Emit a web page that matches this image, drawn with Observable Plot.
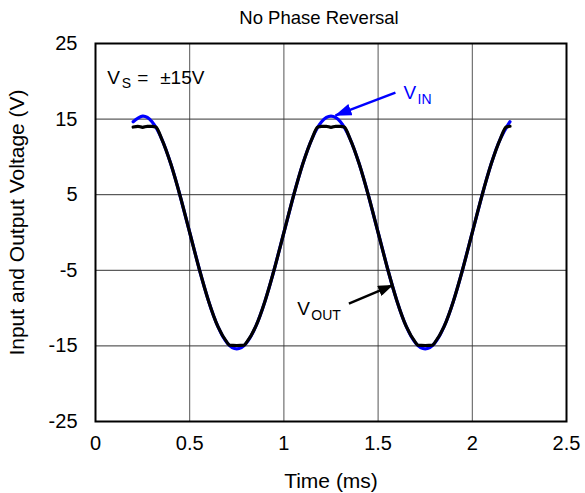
<!DOCTYPE html>
<html>
<head>
<meta charset="utf-8">
<script src="https://cdn.jsdelivr.net/npm/d3@7"></script>
<script src="https://cdn.jsdelivr.net/npm/@observablehq/plot@0.6"></script>
<style>
  html, body { margin: 0; padding: 0; background: white; }
</style>
</head>
<body>
<div id="chart"></div>
<script>
// ---- data ----
const xTicks = [0, 0.5, 1, 1.5, 2, 2.5];
const yTicks = [-25, -15, -5, 5, 15, 25];

// V_IN (V) sampled every 0.05 ms from 0.2 ms to 2.2 ms
const vinTime = [0.20,0.25,0.30,0.35,0.40,0.45,0.50,0.55,0.60,0.65,0.70,0.75,0.80,0.85,0.90,0.95,
                 1.00,1.05,1.10,1.15,1.20,1.25,1.30,1.35,1.40,1.45,1.50,1.55,1.60,1.65,1.70,1.75,
                 1.80,1.85,1.90,1.95,2.00,2.05,2.10,2.15,2.20];
const vinValue = [14.65,15.4,14.65,12.46,9.05,4.76,0,-4.76,-9.05,-12.46,-14.65,-15.4,-14.65,-12.46,-9.05,-4.76,
                  0,4.76,9.05,12.46,14.65,15.4,14.65,12.46,9.05,4.76,0,-4.76,-9.05,-12.46,-14.65,-15.4,
                  -14.65,-12.46,-9.05,-4.76,0,4.76,9.05,12.46,14.65];

// V_OUT (V): follows V_IN but clips near +14 V (with a small dip) and -15 V
const voutTime = [0.20,0.225,0.25,0.275,0.30,0.32,0.35,0.40,0.45,0.50,0.55,0.60,0.65,0.70,0.71,0.75,0.79,0.80,0.85,0.90,0.95,
                  1.00,1.05,1.10,1.15,1.18,1.20,1.225,1.25,1.275,1.30,1.32,1.35,1.40,1.45,1.50,1.55,1.60,1.65,1.70,1.71,1.75,1.79,1.80,1.85,1.90,1.95,
                  2.00,2.05,2.10,2.15,2.18,2.20];
const voutValue = [13.95,14.05,13.9,14.05,14.05,13.95,12.46,9.05,4.76,0,-4.76,-9.05,-12.46,-14.6,-14.9,-14.95,-14.9,-14.6,-12.46,-9.05,-4.76,
                   0,4.76,9.05,12.46,13.95,14.05,14.05,13.9,14.05,14.05,13.95,12.46,9.05,4.76,0,-4.76,-9.05,-12.46,-14.6,-14.9,-14.95,-14.9,-14.6,-12.46,-9.05,-4.76,
                   0,4.76,9.05,12.46,13.95,14.05];

const vin = vinTime.map((t, i) => ({t, v: vinValue[i]}));
const vout = voutTime.map((t, i) => ({t, v: voutValue[i]}));

// ---- annotation anchors (data units) ----
const vsLabel = {t: 0.062, v: 19.7};
const vinLabel = {t: 1.635, v: 17.72};
const voutLabel = {t: 1.071, v: -10.88};
const vinArrow = [{x1: 1.592, y1: 18.51, x2: 1.274, y2: 15.5}];
const voutArrow = [{x1: 1.345, y1: -9.42, x2: 1.575, y2: -7.0}];

function filledHead(len, wid) {
  return (color) => {
    const m = d3.create("svg:marker")
      .attr("viewBox", `0 ${-wid / 2} ${len} ${wid}`)
      .attr("markerWidth", len).attr("markerHeight", wid)
      .attr("refX", len - 1).attr("refY", 0)
      .attr("orient", "auto").attr("markerUnits", "userSpaceOnUse");
    m.append("path").attr("d", `M0,${-wid / 2}L${len},0L0,${wid / 2}Z`)
      .attr("fill", color).attr("stroke", "none");
    return m.node();
  };
}

const FONT = 19, SUB = 14, TICK = 20, LABEL = 21;
const blue = "#0000ff";

const chart = Plot.plot({
  width: 585,
  height: 493,
  marginLeft: 95,
  marginRight: 19,
  marginTop: 43,
  marginBottom: 72,
  style: {fontFamily: "'Liberation Sans', Arial, sans-serif", fontSize: TICK + "px", background: "white", color: "black"},
  x: {domain: [0, 2.5], ticks: xTicks, tickSize: 0, tickPadding: 14, label: null, tickFormat: d => String(d)},
  y: {domain: [-25, 25], ticks: yTicks, tickSize: 0, tickPadding: 18, label: null, tickFormat: d => String(d)},
  marks: [
    Plot.ruleX(xTicks, {stroke: "#555", strokeWidth: 1}),
    Plot.ruleY(yTicks, {stroke: "#333", strokeWidth: 1}),
    Plot.line(vin, {x: "t", y: "v", stroke: blue, strokeWidth: 3.2, curve: "natural"}),
    Plot.line(vout, {x: "t", y: "v", stroke: "black", strokeWidth: 3.2, curve: "monotone-x"}),
    Plot.frame({stroke: "black", strokeWidth: 2}),
    // arrows
    Plot.link(vinArrow, {x1: "x1", y1: "y1", x2: "x2", y2: "y2", stroke: blue, strokeWidth: 2.5, markerEnd: filledHead(17, 12)}),
    Plot.link(voutArrow, {x1: "x1", y1: "y1", x2: "x2", y2: "y2", stroke: "black", strokeWidth: 2.5, markerEnd: filledHead(15, 11)}),
    // V_S = ±15V
    Plot.text([vsLabel], {x: "t", y: "v", text: () => "V", textAnchor: "start", lineAnchor: "bottom", fontSize: FONT}),
    Plot.text([vsLabel], {x: "t", y: "v", text: () => "S", textAnchor: "start", lineAnchor: "bottom", fontSize: SUB, dx: 14.5, dy: 4}),
    Plot.text([vsLabel], {x: "t", y: "v", text: () => "=", textAnchor: "start", lineAnchor: "bottom", fontSize: FONT, dx: 30}),
    Plot.text([vsLabel], {x: "t", y: "v", text: () => "±15V", textAnchor: "start", lineAnchor: "bottom", fontSize: FONT, dx: 53}),
    // V_IN
    Plot.text([vinLabel], {x: "t", y: "v", text: () => "V", textAnchor: "start", lineAnchor: "bottom", fontSize: FONT, fill: blue}),
    Plot.text([vinLabel], {x: "t", y: "v", text: () => "IN", textAnchor: "start", lineAnchor: "bottom", fontSize: SUB, dx: 14, dy: 5, fill: blue}),
    // V_OUT
    Plot.text([voutLabel], {x: "t", y: "v", text: () => "V", textAnchor: "start", lineAnchor: "bottom", fontSize: FONT}),
    Plot.text([voutLabel], {x: "t", y: "v", text: () => "OUT", textAnchor: "start", lineAnchor: "bottom", fontSize: SUB, dx: 14, dy: 5}),
    // title and axis labels
    Plot.text(["No Phase Reversal"], {frameAnchor: "top", textAnchor: "middle", lineAnchor: "middle", dx: -12, dy: -25, fontSize: 18.5}),
    Plot.text(["Time (ms)"], {frameAnchor: "bottom", textAnchor: "middle", lineAnchor: "middle", dy: 60, fontSize: LABEL}),
    Plot.text(["Input and Output Voltage (V)"], {frameAnchor: "left", textAnchor: "middle", lineAnchor: "middle", dx: -78, dy: -10, rotate: -90, fontSize: LABEL})
  ]
});

document.getElementById("chart").appendChild(chart);
</script>
</body>
</html>
